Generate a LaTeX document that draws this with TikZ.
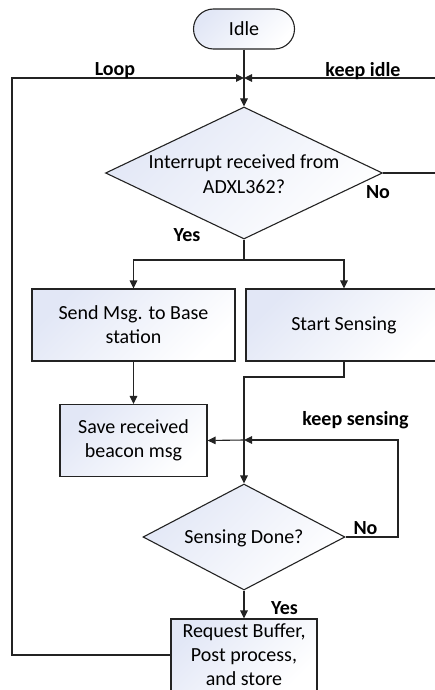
\documentclass[tikz,border=0pt]{standalone}
\usepackage{fontspec}
\setmainfont{Carlito}
\usetikzlibrary{shapes.geometric,shapes.misc,arrows.meta}
\definecolor{boxfill}{RGB}{226,231,246}
\definecolor{edge}{RGB}{35,35,35}
\tikzset{
  base/.style={draw=edge, line width=1.1pt, top color=boxfill, bottom color=white, shading angle=45,
    font=\fontsize{20}{24}\selectfont, align=center, inner sep=0pt},
  procbox/.style={base, rectangle, minimum height=72pt},
  termbox/.style={base, rounded rectangle, minimum width=101pt, minimum height=40pt},
  decbox/.style={base, diamond},
  flow/.style={draw=edge, line width=1.1pt},
  arr/.style={flow, -{Triangle[length=8pt,width=7.5pt]}},
  tag/.style={font=\bfseries\fontsize{20}{24}\selectfont, inner sep=0pt},
  dtext/.style={font=\fontsize{20}{25}\selectfont, align=center, inner sep=0pt}
}
\begin{document}
\begin{tikzpicture}[x=1pt,y=-1pt]
  \useasboundingbox (0,0) rectangle (435,690);
  \clip (0,0) rectangle (435,690);
  \fill[white] (0,0) rectangle (435,690);

  % blocks
  \node[termbox] (idle) at (244,29) {Idle};
  \node[decbox, minimum width=277pt, minimum height=132pt] (d1) at (244,173) {};
  \node[dtext] (d1t) at (244,174) {Interrupt received from\\ADXL362?};
  \node[procbox, minimum width=203pt] (send) at (133.5,325) {Send Msg. to Base\\station};
  \node[procbox, minimum width=196pt] (start) at (344,325) {Start Sensing};
  \node[procbox, minimum width=147pt] (save) at (133.5,440.5) {Save received\\beacon msg};
  \node[decbox, minimum width=202pt, minimum height=106pt] (d2) at (244,537) {};
  \node[dtext] (d2t) at (244,538) {Sensing Done?};
  \node[procbox, minimum width=146pt] (req) at (244,655) {Request Buffer,\\Post process,\\and store};

  % junction and corner points
  \coordinate (j1) at (244,78);
  \coordinate (ys) at (244,260);
  \coordinate (sb) at (344,377);
  \coordinate (j2) at (244,440);
  \coordinate (lc) at (12,78);
  \coordinate (rc1) at (452,173);
  \coordinate (rc2) at (452,78);
  \coordinate (kc) at (398,537);

  % connectors
  \draw[arr] (idle.south) -- (d1.north);
  \draw[arr] (req.west) -| (lc) -- (j1);
  \draw[arr] (d1.east) -- (rc1) -- (rc2) -- (j1);
  \draw[flow] (d1.south) -- (ys);
  \draw[arr] (ys) -| (send.north);
  \draw[arr] (ys) -| (start.north);
  \draw[arr] (send.south) -- (save.north);
  \draw[arr] (start.south) -- (sb) -| (d2.north);
  \draw[arr] (d2.east) -- (kc) |- (j2);
  \draw[arr] (j2) -- (save.east);
  \draw[arr] (d2.south) -- (req.north);

  % branch labels
  \node[tag] (lloop) at (115,71) {Loop};
  \node[tag] (lidle) at (363,71) {keep idle};
  \node[tag] (lno1) at (378,192) {No};
  \node[tag] (lyes1) at (187,235) {Yes};
  \node[tag] (lsens) at (355.5,420) {keep sensing};
  \node[tag] (lno2) at (365.5,528.5) {No};
  \node[tag] (lyes2) at (284.5,608) {Yes};
\end{tikzpicture}
\end{document}
